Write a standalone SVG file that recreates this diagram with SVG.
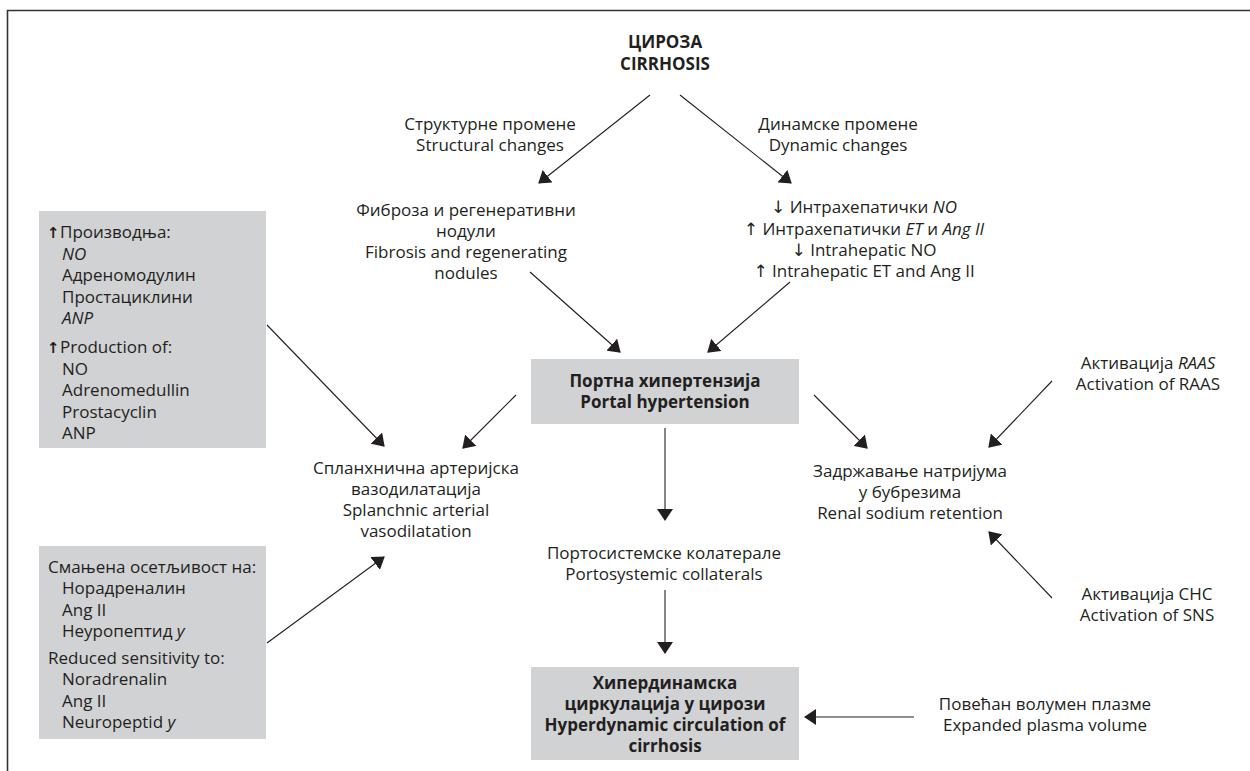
<svg xmlns="http://www.w3.org/2000/svg" width="1250" height="771" viewBox="0 0 1250 771">
<defs>
<style>
text{font-family:"Open Sans","Noto Sans","DejaVu Sans",sans-serif;font-size:17px;fill:#231f20}
.c{text-anchor:middle}
.b{font-weight:bold}
.i{font-style:italic}
.box{fill:#d1d2d4;stroke:none}
.ar{stroke:#231f20;stroke-width:1.1;fill:none;marker-end:url(#ah)}
.frame{stroke:#333;stroke-width:1.6;fill:none}
.up{font-family:"DejaVu Sans",sans-serif;font-weight:bold;font-size:15px}
</style>
<marker id="ah" viewBox="0 0 12 16" refX="11" refY="8" markerWidth="12" markerHeight="16" markerUnits="userSpaceOnUse" orient="auto">
<path d="M0,0 L12,8 L0,16 z" fill="#231f20"/>
</marker>
</defs>
<rect width="1250" height="771" fill="#fff"/>
<path class="frame" d="M7.5,771 V10.5 H1250"/>

<g id="cirrhosis">
<text class="c b" x="665" y="48">ЦИРОЗА</text>
<text class="c b" x="665" y="70">CIRRHOSIS</text>
</g>
<g id="structural">
<text class="c" x="490" y="130">Структурне промене</text>
<text class="c" x="490" y="151">Structural changes</text>
</g>
<g id="dynamic">
<text class="c" x="838" y="130">Динамске промене</text>
<text class="c" x="838" y="151">Dynamic changes</text>
</g>
<g id="fibrosis">
<text class="c" x="466" y="216">Фиброза и регенеративни</text>
<text class="c" x="466" y="237">нодули</text>
<text class="c" x="466" y="258">Fibrosis and regenerating</text>
<text class="c" x="466" y="279">nodules</text>
</g>
<g id="intrahepatic">
<text class="c" x="864" y="213">↓ Интрахепатички <tspan class="i">NO</tspan></text>
<text class="c" x="864" y="235">↑ Интрахепатички <tspan class="i">ET</tspan> и <tspan class="i">Ang II</tspan></text>
<text class="c" x="864" y="256">↓ Intrahepatic NO</text>
<text class="c" x="864" y="277">↑ Intrahepatic ET and Ang II</text>
</g>
<g id="production">
<rect class="box" x="39" y="211" width="227" height="237"/>
<text class="up" x="47" y="238">↑</text>
<text x="60" y="238">Производња:</text>
<text class="i" x="62" y="259.5">NO</text>
<text x="62" y="281">Адреномодулин</text>
<text x="62" y="302.5">Простациклини</text>
<text class="i" x="62" y="324">ANP</text>
<text class="up" x="47" y="353">↑</text>
<text x="60" y="353">Production of:</text>
<text x="62" y="374.5">NO</text>
<text x="62" y="396">Adrenomedullin</text>
<text x="62" y="417.5">Prostacyclin</text>
<text x="62" y="439">ANP</text>
</g>
<g id="sensitivity">
<rect class="box" x="39" y="546" width="227" height="193"/>
<text x="48" y="573">Смањена осетљивост на:</text>
<text x="62" y="594">Норадреналин</text>
<text x="62" y="615.5">Ang II</text>
<text x="62" y="637">Неуропептид <tspan class="i">y</tspan></text>
<text x="48" y="664">Reduced sensitivity to:</text>
<text x="62" y="685">Noradrenalin</text>
<text x="62" y="706.5">Ang II</text>
<text x="62" y="728">Neuropeptid <tspan class="i">y</tspan></text>
</g>
<g id="portal">
<rect class="box" x="531" y="359" width="268" height="65"/>
<text class="c b" x="665" y="387">Портна хипертензија</text>
<text class="c b" x="665" y="408">Portal hypertension</text>
</g>
<g id="splanchnic">
<text class="c" x="416" y="474">Спланхнична артеријска</text>
<text class="c" x="416" y="495">вазодилатација</text>
<text class="c" x="416" y="516">Splanchnic arterial</text>
<text class="c" x="416" y="537">vasodilatation</text>
</g>
<g id="renal">
<text class="c" x="910" y="477">Задржавање натријума</text>
<text class="c" x="910" y="498">у бубрезима</text>
<text class="c" x="910" y="519">Renal sodium retention</text>
</g>
<g id="raas">
<text class="c" x="1148" y="369">Активација <tspan class="i">RAAS</tspan></text>
<text class="c" x="1148" y="390">Activation of RAAS</text>
</g>
<g id="sns">
<text class="c" x="1147" y="600">Активација CHC</text>
<text class="c" x="1147" y="621">Activation of SNS</text>
</g>
<g id="collaterals">
<text class="c" x="664" y="559">Портосистемске колатерале</text>
<text class="c" x="664" y="580">Portosystemic collaterals</text>
</g>
<g id="hyperdynamic">
<rect class="box" x="531" y="667" width="268" height="93"/>
<text class="c b" x="665" y="689">Хипердинамска</text>
<text class="c b" x="665" y="710">циркулација у цирози</text>
<text class="c b" x="665" y="731">Hyperdynamic circulation of</text>
<text class="c b" x="665" y="752">cirrhosis</text>
</g>
<g id="plasma">
<text class="c" x="1045" y="710">Повећан волумен плазме</text>
<text class="c" x="1045" y="731">Expanded plasma volume</text>
</g>

<g id="connectors">
<line class="ar" x1="650" y1="95" x2="539" y2="183"/>
<line class="ar" x1="680" y1="95" x2="791" y2="183"/>
<line class="ar" x1="530" y1="272" x2="620" y2="352"/>
<line class="ar" x1="790" y1="282" x2="708" y2="352"/>
<line class="ar" x1="516" y1="395" x2="463" y2="448"/>
<line class="ar" x1="814" y1="395" x2="867" y2="448"/>
<line class="ar" x1="267" y1="325" x2="384" y2="446"/>
<line class="ar" x1="267" y1="643" x2="384" y2="557"/>
<line class="ar" x1="665" y1="428" x2="665" y2="520"/>
<line class="ar" x1="665" y1="590" x2="665" y2="653"/>
<line class="ar" x1="1052" y1="381" x2="989" y2="447"/>
<line class="ar" x1="1052" y1="598" x2="989" y2="532"/>
<line class="ar" x1="914" y1="717" x2="805" y2="717"/>
</g>
</svg>
